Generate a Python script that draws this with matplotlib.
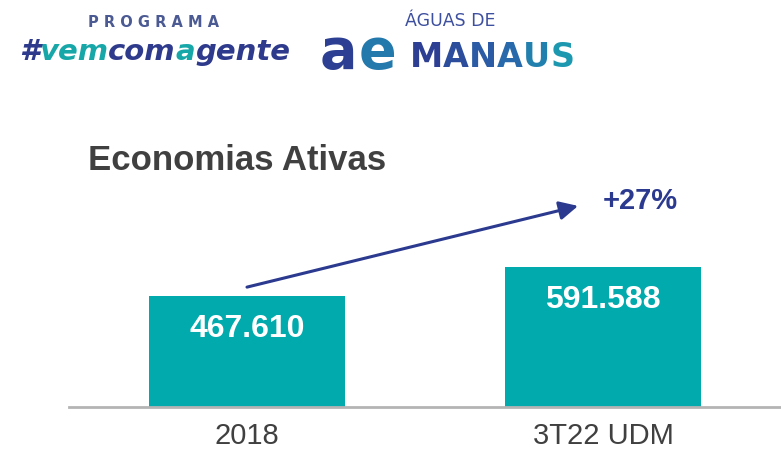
import matplotlib
matplotlib.use('Agg')
import matplotlib.pyplot as plt

# data
categories = ['2018', '3T22 UDM']
values = [467610, 591588]
value_labels = ['467.610', '591.588']

title = 'Economias Ativas'
bar_color = '#00AAAD'
arrow_color = '#2B3A8F'
text_grey = '#404040'

W, H = 781, 459
fig = plt.figure(figsize=(W / 100, H / 100), dpi=100)


def px(x, y):
    # pixel position (from top-left) -> figure fraction
    return x / W, 1 - y / H


### header logos (drawn as text)
fig.text(*px(88, 27), 'P R O G R A M A', fontsize=10.5, fontweight='bold',
         color='#4B5A92', va='baseline', ha='left')

# "#vemcomagente" in two colours, chained one after the other
pieces = [('#', '#2E3A8C'), ('vem', '#17A7A8'), ('com', '#2E3A8C'),
          ('a', '#17A7A8'), ('gente', '#2E3A8C')]
prev = None
for txt, col in pieces:
    kw = dict(fontsize=21, fontweight='bold', fontstyle='italic', color=col,
              va='bottom', ha='left')
    if prev is None:
        prev = fig.text(*px(19, 66), txt, **kw)
    else:
        prev = fig.add_artist(plt.Annotation(txt, xy=(1, 0), xycoords=prev, **kw))

fig.text(*px(405, 26), 'ÁGUAS DE', fontsize=12.5, color='#3D4F9F',
         va='baseline', ha='left')
fig.text(*px(320, 68), 'a', fontsize=40, fontweight='bold', color='#2D3F92',
         va='baseline', ha='left')
fig.text(*px(359, 68), 'e', fontsize=40, fontweight='bold', color='#2378AC',
         va='baseline', ha='left')

manaus_colors = ['#2D3F92', '#2B4D9C', '#2A5BA4', '#2769AA', '#2280AE', '#1C98B0']
prev = None
for ch, col in zip('MANAUS', manaus_colors):
    kw = dict(fontsize=24, fontweight='bold', color=col, va='bottom', ha='left')
    if prev is None:
        prev = fig.text(*px(410, 74), ch, **kw)
    else:
        prev = fig.add_artist(plt.Annotation(ch, xy=(1, 0), xycoords=prev, **kw))

### title
fig.text(*px(88, 170), title, fontsize=25, fontweight='bold',
         family='Liberation Sans', color=text_grey, va='baseline', ha='left')

### bar chart
ax = fig.add_axes([69 / W, 1 - 407 / H, 712 / W, 308.6 / H])
x = list(range(len(categories)))
ax.bar(x, values, width=0.55, color=bar_color, zorder=2)
ax.set_xlim(-0.5, 1.5)
ax.set_ylim(0, 1.3e6)

for xi, v, lab in zip(x, values, value_labels):
    ax.annotate(lab, xy=(xi, v), xytext=(0, -33), textcoords='offset pixels',
                ha='center', va='center', color='white', fontsize=23,
                fontweight='bold', family='Liberation Sans')

# growth arrow
growth = values[1] / values[0] - 1
ax.annotate('', xy=(0.93, 8.47e5), xytext=(0.0, 5.05e5),
            arrowprops=dict(arrowstyle='-|>', lw=2.2, color=arrow_color,
                            mutation_scale=28, shrinkA=0, shrinkB=0))
ax.text(1.104, 8.68e5, '+{:.0f}%'.format(growth * 100), ha='center', va='center',
        fontsize=21, fontweight='bold', family='Liberation Sans', color=arrow_color)

for s in ['top', 'right', 'left']:
    ax.spines[s].set_visible(False)
ax.spines['bottom'].set_color('#B4B4B4')
ax.spines['bottom'].set_linewidth(2)
ax.set_yticks([])
ax.set_xticks(x)
ax.set_xticklabels(categories, fontsize=21, color=text_grey, family='Liberation Sans')
ax.tick_params(axis='x', length=0, pad=11)

fig.savefig('out.png', dpi=100)
